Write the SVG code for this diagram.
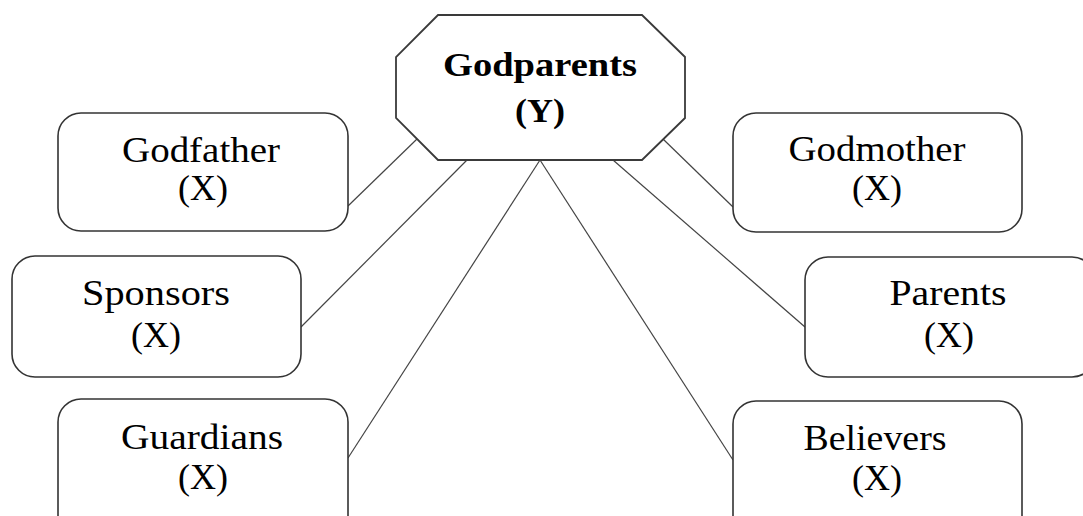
<svg xmlns="http://www.w3.org/2000/svg" width="1083" height="516" viewBox="0 0 1083 516">
  <style>
    .box { fill: #ffffff; stroke: #333333; stroke-width: 1.6; }
    .hub { fill: #ffffff; stroke: #3a3a3a; stroke-width: 1.8; }
    .link { stroke: #444444; stroke-width: 1.2; fill: none; }
    text { font-family: "Liberation Serif", "Times New Roman", serif; fill: #000000; text-anchor: middle; }
    .lbl { font-size: 36px; }
    .hubt { font-size: 34px; font-weight: bold; }
  </style>
  <rect width="1083" height="516" fill="#ffffff"/>

  <!-- connectors from the central octagon to each term -->
  <g id="connectors">
    <line class="link" x1="417" y1="139" x2="348" y2="206"/>
    <line class="link" x1="467" y1="160" x2="301" y2="327"/>
    <line class="link" x1="540" y1="160" x2="348" y2="458"/>
    <line class="link" x1="663" y1="139" x2="733" y2="207"/>
    <line class="link" x1="613" y1="160" x2="805" y2="327"/>
    <line class="link" x1="540" y1="160" x2="733" y2="460"/>
  </g>

  <g id="godparents">
    <polygon class="hub" points="438,15 642,15 685,57 685,118 642,160 438,160 396,118 396,57"/>
    <text class="hubt" x="540" y="76" textLength="194" lengthAdjust="spacingAndGlyphs">Godparents</text>
    <text class="hubt" x="540" y="122" textLength="50" lengthAdjust="spacingAndGlyphs">(Y)</text>
  </g>

  <g id="godfather">
    <rect class="box" x="58" y="113" width="290" height="118" rx="23" ry="23"/>
    <text class="lbl" x="201" y="162" textLength="158" lengthAdjust="spacingAndGlyphs">Godfather</text>
    <text class="lbl" x="203" y="200" textLength="50" lengthAdjust="spacingAndGlyphs">(X)</text>
  </g>

  <g id="sponsors">
    <rect class="box" x="12" y="256" width="289" height="121" rx="23" ry="23"/>
    <text class="lbl" x="156" y="305" textLength="148" lengthAdjust="spacingAndGlyphs">Sponsors</text>
    <text class="lbl" x="156" y="347" textLength="50" lengthAdjust="spacingAndGlyphs">(X)</text>
  </g>

  <g id="guardians">
    <rect class="box" x="58" y="399" width="290" height="140" rx="23" ry="23"/>
    <text class="lbl" x="202" y="449" textLength="162" lengthAdjust="spacingAndGlyphs">Guardians</text>
    <text class="lbl" x="203" y="489" textLength="50" lengthAdjust="spacingAndGlyphs">(X)</text>
  </g>

  <g id="godmother">
    <rect class="box" x="733" y="113" width="289" height="119" rx="23" ry="23"/>
    <text class="lbl" x="877" y="161" textLength="177" lengthAdjust="spacingAndGlyphs">Godmother</text>
    <text class="lbl" x="877" y="200" textLength="50" lengthAdjust="spacingAndGlyphs">(X)</text>
  </g>

  <g id="parents">
    <rect class="box" x="805" y="257" width="290" height="120" rx="23" ry="23"/>
    <text class="lbl" x="948" y="305" textLength="117" lengthAdjust="spacingAndGlyphs">Parents</text>
    <text class="lbl" x="949" y="347" textLength="50" lengthAdjust="spacingAndGlyphs">(X)</text>
  </g>

  <g id="believers">
    <rect class="box" x="733" y="401" width="289" height="140" rx="23" ry="23"/>
    <text class="lbl" x="875" y="450" textLength="143" lengthAdjust="spacingAndGlyphs">Believers</text>
    <text class="lbl" x="877" y="490" textLength="50" lengthAdjust="spacingAndGlyphs">(X)</text>
  </g>
</svg>
